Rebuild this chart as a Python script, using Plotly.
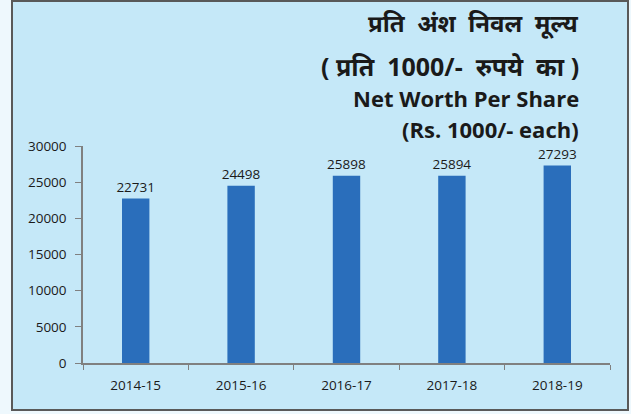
import plotly.graph_objects as go

years = ["2014-15", "2015-16", "2016-17", "2017-18", "2018-19"]
net_worth = [22731, 24498, 25898, 25894, 27293]
y_ticks = [0, 5000, 10000, 15000, 20000, 25000, 30000]
y_tick_labels = ["0", "5000", "10000", "15000", "20000", "25000", "30000"]
title_lines = [
    "प्रति  अंश  निवल  मूल्य",
    "( प्रति  1000/-  रुपये  का )",
    "Net Worth Per Share",
    "(Rs. 1000/- each)",
]

W, H = 631, 414
L, R, T, B = 83, 21, 146, 51
pw, ph = W - L - R, H - T - B

def px(x):
    return (x - L) / pw

def py(y):
    return (H - B - y) / ph

FONT = "Open Sans, Liberation Sans, sans-serif"

fig = go.Figure(go.Bar(
    x=years, y=net_worth,
    marker=dict(color="#2a6ebb", line=dict(width=0)),
    text=[str(v) for v in net_worth], textposition="outside",
    textfont=dict(size=13.5, color="#1a1a1a", family=FONT),
    constraintext="none",
    cliponaxis=False, width=0.26,
))

fig.add_shape(type="rect", xref="paper", yref="paper",
              x0=px(12), x1=px(628), y0=py(410), y1=py(1),
              fillcolor="#c5e8f8", line=dict(color="#595959", width=2), layer="below")

ys = [23, 66, 98, 129]
sizes = [24, 25, 22, 22]
for txt, yy, s in zip(title_lines, ys, sizes):
    fig.add_annotation(text="<b>" + txt + "</b>", xref="paper", yref="paper",
                       x=px(581), y=py(yy), xanchor="right", yanchor="middle",
                       showarrow=False,
                       font=dict(size=s, color="#1a1a1a", family="Open Sans, Noto Sans, Liberation Sans, sans-serif"))

fig.update_layout(
    width=W, height=H,
    margin=dict(l=L, r=R, t=T, b=B, autoexpand=False),
    paper_bgcolor="#eef8fd", plot_bgcolor="rgba(0,0,0,0)",
    showlegend=False,
    xaxis=dict(showline=True, linecolor="#808080", linewidth=1.5, ticks="outside",
               tickson="boundaries", ticklen=5, tickcolor="#808080",
               ticklabelstandoff=9,
               tickfont=dict(size=13.5, color="#1a1a1a", family=FONT),
               showgrid=False),
    yaxis=dict(range=[0, 30000], tickvals=y_ticks, ticktext=y_tick_labels,
               showline=True, linecolor="#808080",
               linewidth=1.5, ticks="outside", ticklen=6, tickcolor="#808080",
               ticklabelstandoff=6,
               tickfont=dict(size=13.5, color="#1a1a1a", family=FONT),
               showgrid=False, zeroline=False),
)

fig.write_html("out.html", config={"displayModeBar": False},
               post_script="document.body.style.margin='0';document.body.style.padding='0';")
